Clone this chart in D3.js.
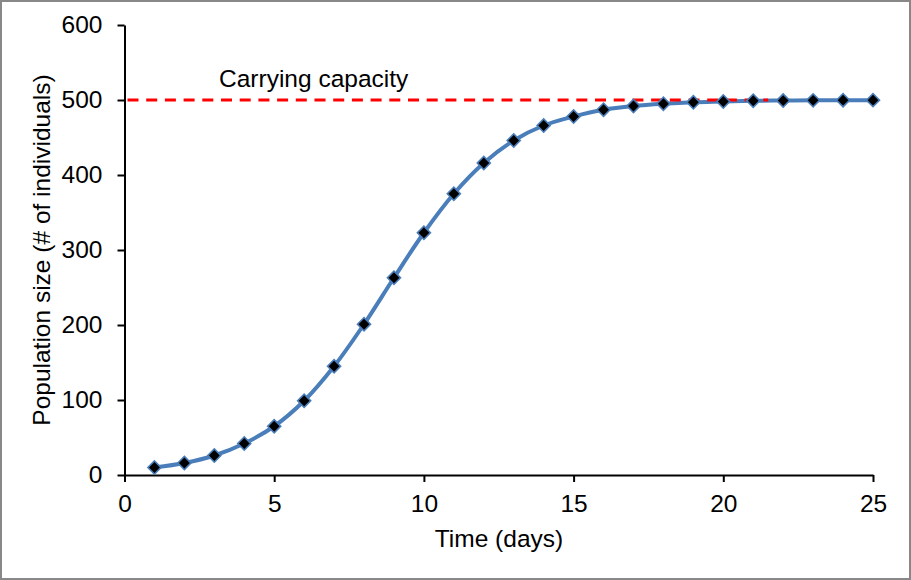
<!DOCTYPE html>
<html><head><meta charset="utf-8">
<script src="https://cdn.jsdelivr.net/npm/d3@7"></script>
<style>body{margin:0;background:#fff}svg{display:block}text{font-family:"Liberation Sans",Arial,sans-serif}</style>
</head><body>
<script>
const days = [1,2,3,4,5,6,7,8,9,10,11,12,13,14,15,16,17,18,19,20,21,22,23,24,25];
const population = [10,16,26,42,65,99,145,201,263,323,375,416,446,466,478,487,492,495,497,498,499,499.3,499.6,499.7,499.8];
const carryingCapacity = 500;
const capacityRange = [0, 21.5];
const xTicks = [0,5,10,15,20,25];
const yTicks = [0,100,200,300,400,500,600];

const W = 911, H = 580;
const FS = 24.5;
const svg = d3.select("body").append("svg").attr("width", W).attr("height", H);
svg.append("rect").attr("x",1).attr("y",1).attr("width",W-2).attr("height",H-2)
  .attr("fill","#fff").attr("stroke","#888").attr("stroke-width",2);

const x = d3.scaleLinear().domain([0,25]).range([124.5,873]);
const y = d3.scaleLinear().domain([0,600]).range([475,25]);

const xAxis = svg.append("g").attr("transform","translate(0,475)")
  .call(d3.axisBottom(x).tickValues(xTicks).tickSize(7).tickPadding(13).tickSizeOuter(0));
const yAxis = svg.append("g").attr("transform","translate(124.5,0)")
  .call(d3.axisLeft(y).tickValues(yTicks).tickSize(7).tickPadding(15).tickSizeOuter(0));
[xAxis,yAxis].forEach(g=>{
  g.select(".domain").attr("stroke","#000").attr("stroke-width",2);
  g.selectAll(".tick line").attr("stroke","#000").attr("stroke-width",2);
  g.selectAll(".tick text").attr("font-size",FS).attr("fill","#000")
   .attr("font-family","'Liberation Sans',Arial,sans-serif");
});

const line = d3.line().x((d,i)=>x(days[i])).y(d=>y(d)).curve(d3.curveCatmullRom.alpha(0.5));
svg.append("path").datum(population).attr("d",line).attr("fill","none")
  .attr("stroke","#4a7ebb").attr("stroke-width",4);

svg.append("line").attr("x1",x(capacityRange[0])+3).attr("x2",x(capacityRange[1]))
  .attr("y1",y(carryingCapacity)).attr("y2",y(carryingCapacity))
  .attr("stroke","#ff0000").attr("stroke-width",3).attr("stroke-dasharray","11,7.7");

svg.selectAll("path.m").data(population).join("path").attr("class","m")
  .attr("d", d3.symbol().type(d3.symbolSquare).size(85))
  .attr("transform",(d,i)=>`translate(${x(days[i])},${y(d)}) rotate(45)`)
  .attr("fill","#000").attr("stroke","#4a7ebb").attr("stroke-width",1.6);

svg.append("text").attr("x",219).attr("y",87).attr("font-size",FS).attr("fill","#000")
  .text("Carrying capacity");
svg.append("text").attr("x",499).attr("y",547).attr("text-anchor","middle")
  .attr("font-size",FS).attr("fill","#000").text("Time (days)");
svg.append("text").attr("transform","translate(50,250) rotate(-90)").attr("text-anchor","middle")
  .attr("font-size",FS).attr("fill","#000").text("Population size (# of individuals)");
</script>
</body></html>
